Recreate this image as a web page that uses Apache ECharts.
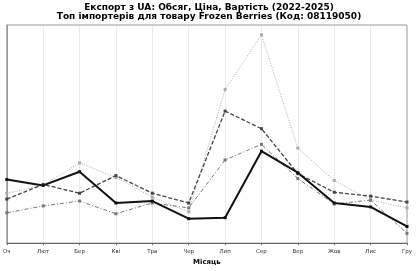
<!DOCTYPE html>
<html>
<head>
<meta charset="utf-8">
<script src="https://cdn.jsdelivr.net/npm/echarts@6/dist/echarts.min.js"></script>
<style>
  html, body { margin: 0; padding: 0; background: #fff; }
  #chart { width: 418px; height: 271px; }
</style>
</head>
<body>
<div id="chart"></div>
<script>
// months (Ukrainian abbreviations as in the source)
var months = ["Оч", "Лют", "Бер", "Кві", "Тра", "Чер", "Лип", "Сер", "Вер", "Жов", "Лис", "Гру"];

// values (relative units, no y labels in original)
var solidSeries = [65, 59, 73, 41, 43, 25, 26, 94, 72, 41, 37, 17];
var dashedSeries = [45, 60, 51, 69, 51, 41, 135, 117, 71, 52, 48, 42];
var dottedSeries = [51, 59, 82, 67, 47, 32, 157, 213, 97, 64, 44, 36];
var dashDotSeries = [31, 38, 43, 30, 41, 36, 85, 101, 66, 40, 44, 10];

var chart = echarts.init(document.getElementById("chart"));

function line(name, data, color, width, type) {
  return {
    name: name,
    type: "line",
    data: data,
    symbol: "rect",
    symbolSize: 3,
    showSymbol: true,
    itemStyle: { color: color },
    lineStyle: { color: color, width: width, type: type },
    emphasis: { disabled: true }
  };
}

chart.setOption({
  backgroundColor: "#ffffff",
  animation: false,
  title: {
    text: "Експорт з UA: Обсяг, Ціна, Вартість (2022-2025)\nТоп імпортерів для товару Frozen Berries (Код: 08119050)",
    left: "center",
    top: 3,
    padding: 0,
    textStyle: {
      fontFamily: "DejaVu Sans",
      fontWeight: "bold",
      fontSize: 9,
      lineHeight: 9,
      color: "#000"
    }
  },
  grid: {
    left: 4,
    right: 11,
    top: 25,
    bottom: 23,
    show: true,
    borderColor: "#999",
    borderWidth: 1
  },
  xAxis: {
    type: "category",
    data: months,
    boundaryGap: false,
    name: "Місяць",
    nameLocation: "middle",
    nameGap: 15,
    nameTextStyle: {
      fontFamily: "DejaVu Sans",
      fontWeight: "bold",
      fontSize: 7,
      color: "#000"
    },
    axisLine: { lineStyle: { color: "#666", width: 1 } },
    axisTick: { show: true, length: 2, lineStyle: { color: "#666" } },
    axisLabel: {
      fontFamily: "DejaVu Sans",
      fontSize: 5.5,
      color: "#333",
      margin: 5,
      interval: 0
    },
    splitLine: {
      show: true,
      lineStyle: { color: "#ccc", type: "dotted", width: 0.8 }
    }
  },
  yAxis: {
    type: "value",
    min: 0,
    max: 223,
    axisLabel: { show: false },
    axisTick: { show: false },
    axisLine: { show: true, lineStyle: { color: "#999" } },
    splitLine: { show: false }
  },
  series: [
    line("Імпортер 4", dottedSeries, "#aaaaaa", 1, [1, 1.5]),
    line("Імпортер 3", dashDotSeries, "#777777", 1, [4, 2, 1, 2]),
    line("Імпортер 2", dashedSeries, "#444444", 1.3, [4, 2]),
    line("Імпортер 1", solidSeries, "#111111", 2, "solid")
  ]
});
</script>
</body>
</html>
